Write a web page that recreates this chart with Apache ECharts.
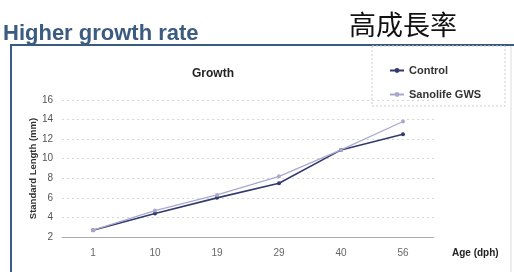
<!DOCTYPE html>
<html>
<head>
<meta charset="utf-8">
<script src="https://cdn.jsdelivr.net/npm/echarts@6/dist/echarts.min.js"></script>
<style>
  html, body { margin: 0; padding: 0; background: #fff; }
  #chart { width: 514px; height: 272px; }
</style>
</head>
<body>
<div id="chart"></div>
<script>
var ages = ['1', '10', '19', '29', '40', '56'];
var control = [2.7, 4.4, 6.0, 7.5, 10.9, 12.5];
var sanolife = [2.7, 4.7, 6.3, 8.2, 10.9, 13.8];
var seriesNames = ['Control', 'Sanolife GWS'];

var chart = echarts.init(document.getElementById('chart'));
var option = {
  animation: false,
  backgroundColor: '#fff',
  title: [
    {
      text: 'Higher growth rate',
      left: -2, top: 18,
      textStyle: { fontFamily: 'Liberation Sans', fontSize: 22, fontWeight: 'bold', color: '#3b5b80' }
    },
    {
      text: '高成長率',
      left: 344, top: 6,
      textStyle: { fontFamily: 'Noto Sans CJK TC', fontSize: 27, fontWeight: 'normal', color: '#111' }
    },
    {
      text: 'Growth',
      left: 187, top: 63,
      textStyle: { fontFamily: 'Liberation Sans', fontSize: 12, fontWeight: 'bold', color: '#222' }
    }
  ],
  graphic: [
    { type: 'line', shape: { x1: 10, y1: 45, x2: 514, y2: 45 }, style: { stroke: '#3a5a82', lineWidth: 2 } },
    { type: 'line', shape: { x1: 11, y1: 45, x2: 11, y2: 272 }, style: { stroke: '#3a5a82', lineWidth: 2 } },
    { type: 'line', shape: { x1: 511, y1: 46, x2: 511, y2: 272 }, style: { stroke: '#ddd', lineWidth: 1 } },
    { type: 'rect', shape: { x: 372, y: 46, width: 133, height: 60 }, style: { fill: 'none', stroke: '#ccc', lineWidth: 1, lineDash: [2, 2] } }
  ],
  legend: {
    data: seriesNames,
    orient: 'vertical',
    left: 384, top: 60,
    itemWidth: 14, itemHeight: 6, itemGap: 13,
    textStyle: { fontFamily: 'Liberation Sans', fontSize: 11, fontWeight: 'bold', color: '#333' }
  },
  grid: { left: 62, right: 80, top: 100, bottom: 35 },
  xAxis: {
    type: 'category',
    data: ages,
    name: 'Age (dph)',
    nameLocation: 'end',
    nameGap: 18,
    nameTextStyle: { fontFamily: 'Liberation Sans', fontSize: 10, fontWeight: 'bold', color: '#222', verticalAlign: 'top', padding: [11, 0, 0, 0] },
    axisLine: { lineStyle: { color: '#aaa' } },
    axisTick: { show: false },
    axisLabel: { fontFamily: 'Liberation Sans', fontSize: 10, color: '#666', margin: 11 }
  },
  yAxis: {
    type: 'value',
    min: 2, max: 16, interval: 2,
    name: 'Standard Length (mm)',
    nameLocation: 'middle',
    nameRotate: 90,
    nameGap: 24,
    nameMoveOverlap: false,
    nameTextStyle: { fontFamily: 'Liberation Sans', fontSize: 9.5, fontWeight: 'bold', color: '#333' },
    axisLine: { show: false },
    axisTick: { show: false },
    axisLabel: { fontFamily: 'Liberation Sans', fontSize: 10, color: '#555', margin: 9 },
    splitLine: { lineStyle: { color: '#d8d8d8', type: [2, 3] } }
  },
  series: [
    {
      name: seriesNames[0], type: 'line', data: control,
      symbol: 'circle', symbolSize: 4,
      lineStyle: { color: '#323a6e', width: 1.6 },
      itemStyle: { color: '#323a6e' }
    },
    {
      name: seriesNames[1], type: 'line', data: sanolife,
      symbol: 'circle', symbolSize: 4,
      lineStyle: { color: '#a9a9cf', width: 1.2 },
      itemStyle: { color: '#a9a9cf' }
    }
  ]
};
chart.setOption(option);
</script>
</body>
</html>
